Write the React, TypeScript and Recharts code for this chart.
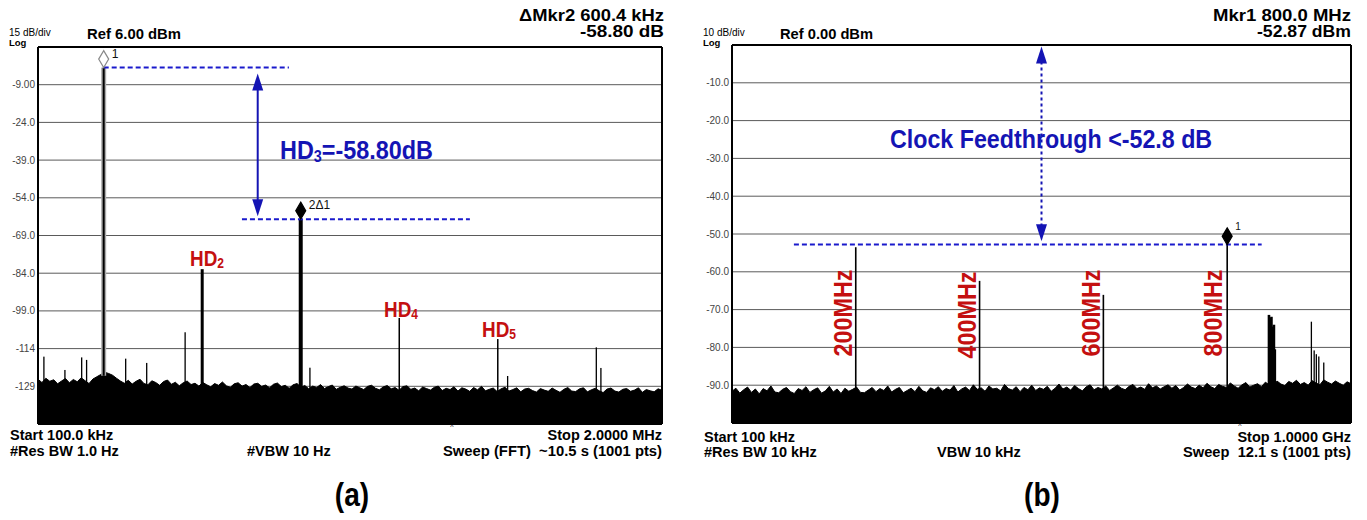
import React from 'react';
import {
  ComposedChart,
  Area,
  Bar,
  Scatter,
  XAxis,
  YAxis,
  CartesianGrid,
  ReferenceLine,
} from 'recharts';

// ---------------- Panel (a): 100 kHz – 2 MHz, 15 dB/div, Ref 6 dBm ----------------
const sweepA = [0.1, 2.0]; // MHz (start, stop)
const yRangeA = [-144, 6]; // dBm
const xGridA = [0.29, 0.48, 0.67, 0.86, 1.05, 1.24, 1.43, 1.62, 1.81];
const yTicksA = [-129, -114, -99, -84, -69, -54, -39, -24, -9];
const yTickLabelsA = ['-129', '-114', '-99.0', '-84.0', '-69.0', '-54.0', '-39.0', '-24.0', '-9.00'];

// noise floor trace (dBm), uniform sweep points from start to stop
const noiseA = [
  -126.2, -127.5, -125.8, -127.0, -126.4, -128.0, -126.9, -125.9, -127.6, -126.3,
  -127.2, -125.6, -126.8, -127.9, -126.1, -125.2, -124.3, -123.4, -123.9, -124.6,
  -125.8, -126.9, -127.8, -126.6, -128.1, -127.0, -126.2, -127.9, -128.4, -126.8,
  -127.5, -128.6, -127.1, -126.5, -128.2, -127.4, -128.8, -127.6, -126.9, -128.3,
  -127.8, -128.9, -127.5, -128.4, -129.2, -127.9, -128.6, -127.3, -128.8, -129.4,
  -128.0, -127.6, -128.9, -128.3, -129.5, -128.1, -127.8, -129.0, -128.5, -129.6,
  -128.2, -127.7, -129.1, -128.6, -129.8, -128.4, -127.9, -129.3, -128.7, -130.0,
  -128.9, -129.5, -128.3, -129.9, -129.1, -128.5, -130.2, -129.4, -128.8, -129.7,
  -130.1, -128.9, -129.6, -130.3, -129.0, -128.6, -129.8, -130.4, -129.2, -128.7,
  -130.0, -129.5, -130.6, -129.1, -128.8, -130.2, -129.7, -130.8, -129.3, -129.9,
  -130.5, -129.4, -128.9, -130.7, -129.8, -130.3, -129.2, -130.9, -129.6, -130.1,
  -131.0, -129.5, -130.4, -129.0, -130.8, -130.2, -129.7, -131.1, -130.0, -129.4,
  -130.9, -130.3, -129.6, -131.2, -130.1, -129.8, -130.7, -131.3, -129.9, -130.5,
  -131.0, -129.7, -130.6, -131.4, -130.2, -129.5, -130.9, -131.1, -130.0, -129.6,
  -131.2, -130.4, -129.8, -130.8, -131.5, -130.1, -129.7, -130.9, -131.3, -130.2,
  -129.9, -131.0, -130.5, -129.6, -131.4, -130.3, -130.8, -131.2, -130.0, -130.6,
];

// discrete tones (MHz, dBm)
const spikesA = [
  { f: 0.118, level: -117.2, kind: 'spur' },
  { f: 0.182, level: -122.5, kind: 'spur' },
  { f: 0.233, level: -117.5, kind: 'spur' },
  { f: 0.248, level: -118.5, kind: 'spur' },
  { f: 0.3, level: -2.2, kind: 'fund' },
  { f: 0.367, level: -118.0, kind: 'spur' },
  { f: 0.431, level: -119.7, kind: 'spur' },
  { f: 0.548, level: -107.5, kind: 'spur' },
  { f: 0.6, level: -82.4, kind: 'hd2' },
  { f: 0.9, level: -62.5, kind: 'hd3' },
  { f: 0.928, level: -121.6, kind: 'spur' },
  { f: 1.2, level: -101.8, kind: 'hd' },
  { f: 1.5, level: -110.2, kind: 'hd' },
  { f: 1.53, level: -124.9, kind: 'spur' },
  { f: 1.8, level: -113.5, kind: 'spur' },
  { f: 1.814, level: -121.7, kind: 'spur' },
];

const markersA = [
  { f: 0.3, level: -2.2, label: '1', filled: false },
  { f: 0.9, level: -62.5, label: '2Δ1', filled: true },
];
const dashLinesA = [
  { x1: 0.3, x2: 0.864, y: -2.2 },
  { x1: 0.721, x2: 1.415, y: -62.5 },
];
const arrowA = { x: 0.769, yTop: -4.5, yBottom: -61.3 };

// ---------------- Panel (b): 100 kHz – 1 GHz, 10 dB/div, Ref 0 dBm ----------------
const sweepB = [0.1, 1000]; // MHz
const yRangeB = [-100, 0];
const xGridB = [100.09, 200.08, 300.07, 400.06, 500.05, 600.04, 700.03, 800.02, 900.01];
const yTicksB = [-90, -80, -70, -60, -50, -40, -30, -20, -10];
const yTickLabelsB = ['-90.0', '-80.0', '-70.0', '-60.0', '-50.0', '-40.0', '-30.0', '-20.0', '-10.0'];

const noiseB = [
  -91.6, -90.8, -92.1, -91.2, -90.5, -91.9, -91.0, -92.3, -90.9, -91.5,
  -90.2, -91.8, -92.0, -91.1, -90.6, -91.7, -92.2, -90.9, -91.4, -90.4,
  -91.9, -91.2, -90.7, -92.1, -91.5, -90.3, -91.8, -91.0, -92.2, -90.8,
  -91.6, -91.1, -90.5, -91.9, -92.0, -91.3, -90.6, -91.7, -90.9, -91.4,
  -90.2, -91.8, -91.1, -90.6, -92.0, -91.4, -90.8, -91.7, -90.3, -91.5,
  -91.9, -90.7, -91.2, -90.4, -91.6, -90.9, -91.3, -90.1, -91.8, -91.0,
  -90.5, -91.4, -89.9, -91.1, -90.7, -91.6, -90.2, -91.0, -90.8, -91.5,
  -89.8, -90.9, -91.3, -90.4, -91.7, -90.6, -91.2, -90.0, -91.4, -90.7,
  -91.1, -90.3, -91.6, -90.8, -89.7, -91.0, -90.5, -91.3, -90.1, -90.9,
  -91.5, -90.4, -89.9, -91.2, -90.6, -91.0, -90.2, -91.4, -90.7, -90.0,
  -90.8, -91.2, -90.3, -89.8, -90.9, -90.5, -91.1, -89.6, -90.7, -90.2,
  -91.0, -90.4, -89.9, -90.8, -90.1, -91.3, -90.6, -89.7, -90.5, -90.9,
  -90.0, -90.7, -89.5, -90.4, -90.9, -89.8, -90.3, -90.6, -89.4, -90.2,
  -90.8, -89.9, -89.3, -90.5, -90.0, -89.6, -90.4, -89.2, -89.9, -90.3,
  -88.9, -89.7, -90.1, -89.0, -89.5, -88.7, -89.8, -89.3, -90.0, -88.8,
  -89.4, -89.9, -88.6, -89.2, -89.7, -88.9, -89.5, -90.0, -89.1, -89.6,
];

const spikesB = [
  { f: 200, level: -53.5, kind: 'tone' },
  { f: 400, level: -62.4, kind: 'tone' },
  { f: 600, level: -66.1, kind: 'tone' },
  { f: 800, level: -52.87, kind: 'tone' },
  { f: 867.5, level: -71.4, kind: 'cluster' },
  { f: 869.5, level: -72.2, kind: 'cluster' },
  { f: 871.5, level: -71.9, kind: 'cluster' },
  { f: 873.5, level: -74.5, kind: 'cluster' },
  { f: 875.5, level: -74.0, kind: 'cluster' },
  { f: 878.0, level: -80.5, kind: 'spur' },
  { f: 936.0, level: -73.2, kind: 'spur' },
  { f: 940.5, level: -80.8, kind: 'spur' },
  { f: 944.0, level: -81.8, kind: 'spur' },
  { f: 948.0, level: -82.4, kind: 'spur' },
  { f: 956.0, level: -84.0, kind: 'spur' },
];

const markersB = [{ f: 800, level: -52.87, label: '1', filled: true }];
const dashLinesB = [{ x1: 100.1, x2: 855.7, y: -52.8 }];
const arrowB = { x: 500.05, yTop: -0.4, yBottom: -51.9 };

// ---------------- styles ----------------
const FONT = 'Liberation Sans, Arial, Helvetica, sans-serif';
const BLUE = '#1414b4';
const DASH_BLUE = '#1a1acc';
const RED = '#c41010';

const spikeStyles: Record<string, { w: number; halo?: number; haloColor?: string }> = {
  fund: { w: 2, halo: 5, haloColor: '#ababab' },
  hd3: { w: 4 },
  hd2: { w: 3 },
  hd: { w: 1.5 },
  tone: { w: 1.6 },
  cluster: { w: 2.6 },
  spur: { w: 1.3 },
};

function buildRows(sweep: number[], noise: number[], spikes: any[]) {
  const n = noise.length;
  const step = (sweep[1] - sweep[0]) / (n - 1);
  const rows: any[] = noise.map((v, i) => ({ f: sweep[0] + i * step, noise: v }));
  spikes.forEach((s) => {
    const idx = Math.round((s.f - sweep[0]) / step);
    const near = [idx - 1, idx, idx + 1].filter((k) => k >= 0 && k < n).map((k) => noise[k]);
    const floor = Math.min(...near) - 0.5;
    rows.push({ f: s.f, kind: s.kind, spike: [floor, s.level] });
  });
  rows.sort((a, b) => a.f - b.f);
  return rows;
}

const SpikeShape = (props: any) => {
  const { x, y, width, height, payload } = props;
  if (!payload || !payload.kind || !isFinite(x) || !isFinite(y) || !isFinite(height)) return <g />;
  const st = spikeStyles[payload.kind];
  const cx = x + width / 2;
  const top = Math.min(y, y + height);
  const h = Math.abs(height);
  return (
    <g>
      {st.halo ? <rect x={cx - st.halo / 2} y={top} width={st.halo} height={h} fill={st.haloColor} /> : null}
      <rect x={cx - st.w / 2} y={top} width={st.w} height={h} fill="#000" />
    </g>
  );
};

const makeDiamond = (labelDx: number, labelDy: number, labelSize: number) => (props: any) => {
  const { cx, cy, payload } = props;
  if (!isFinite(cx) || !isFinite(cy)) return <g />;
  const h = 17;
  const w = 5;
  const pts = `${cx},${cy - h} ${cx + w},${cy - h / 2} ${cx},${cy} ${cx - w},${cy - h / 2}`;
  return (
    <g>
      <polygon
        points={pts}
        fill={payload.filled ? '#000' : '#fff'}
        stroke={payload.filled ? '#000' : '#8a8a8a'}
        strokeWidth={1.2}
      />
      <text x={cx + labelDx} y={cy + labelDy} fontSize={labelSize} fontFamily={FONT} fill="#111">
        {payload.label}
      </text>
    </g>
  );
};

const makeArrow = (dash?: string) => (props: any) => {
  const { x1, y1, y2 } = props;
  if (!isFinite(x1)) return <g />;
  const top = Math.min(y1, y2);
  const bot = Math.max(y1, y2);
  const hw = 5.5;
  const hl = 17;
  return (
    <g>
      <line x1={x1} y1={top + hl - 2} x2={x1} y2={bot - hl + 2} stroke={BLUE} strokeWidth={2} strokeDasharray={dash} />
      <polygon points={`${x1},${top} ${x1 + hw},${top + hl} ${x1 - hw},${top + hl}`} fill={BLUE} />
      <polygon points={`${x1},${bot} ${x1 + hw},${bot - hl} ${x1 - hw},${bot - hl}`} fill={BLUE} />
    </g>
  );
};

const makeTick = (ticks: number[], labels: string[]) => (props: any) => {
  const { x, y, payload } = props;
  const i = ticks.indexOf(payload.value);
  return (
    <text x={x} y={y} dy={3.5} textAnchor="end" fontSize={10} fill="#444" fontFamily={FONT}>
      {labels[i]}
    </text>
  );
};

type PanelProps = {
  width: number;
  height: number;
  margin: any;
  yAxisWidth: number;
  sweep: number[];
  yRange: number[];
  xGrid: number[];
  yTicks: number[];
  yTickLabels: string[];
  noise: number[];
  spikes: any[];
  markers: any[];
  dashes: any[];
  arrow: { x: number; yTop: number; yBottom: number };
  arrowDash?: string;
  labelDx: number;
  labelDy: number;
  labelSize: number;
};

function Panel(p: PanelProps) {
  const rows = buildRows(p.sweep, p.noise, p.spikes);
  return (
    <ComposedChart width={p.width} height={p.height} data={rows} margin={p.margin}>
      <CartesianGrid stroke="#5a5a5a" strokeWidth={1} horizontal vertical />
      <XAxis
        dataKey="f"
        type="number"
        domain={p.sweep}
        ticks={p.xGrid}
        allowDataOverflow
        tick={false}
        tickLine={false}
        axisLine={false}
        height={0}
      />
      <YAxis
        type="number"
        domain={p.yRange}
        ticks={p.yTicks}
        allowDataOverflow
        axisLine={false}
        tickLine={false}
        tickSize={0}
        tickMargin={3}
        width={p.yAxisWidth}
        tick={makeTick(p.yTicks, p.yTickLabels)}
      />
      <Area
        type="linear"
        dataKey="noise"
        stroke="#000"
        strokeWidth={1}
        fill="#000"
        fillOpacity={1}
        baseValue="dataMin"
        connectNulls
        dot={false}
        activeDot={false}
        isAnimationActive={false}
      />
      <Bar dataKey="spike" barSize={1} shape={SpikeShape} isAnimationActive={false} />
      <ReferenceLine x={p.sweep[0]} stroke="#000" strokeWidth={2} />
      <ReferenceLine x={p.sweep[1]} stroke="#000" strokeWidth={2} />
      <ReferenceLine y={p.yRange[0]} stroke="#000" strokeWidth={2} />
      <ReferenceLine y={p.yRange[1]} stroke="#000" strokeWidth={2} />
      {p.dashes.map((d, i) => (
        <ReferenceLine
          key={'d' + i}
          segment={[
            { x: d.x1, y: d.y },
            { x: d.x2, y: d.y },
          ]}
          stroke={DASH_BLUE}
          strokeWidth={2}
          strokeDasharray="5 3"
        />
      ))}
      <ReferenceLine
        segment={[
          { x: p.arrow.x, y: p.arrow.yTop },
          { x: p.arrow.x, y: p.arrow.yBottom },
        ]}
        shape={makeArrow(p.arrowDash)}
      />
      <Scatter
        data={p.markers}
        dataKey="level"
        shape={makeDiamond(p.labelDx, p.labelDy, p.labelSize)}
        isAnimationActive={false}
      />
    </ComposedChart>
  );
}

// Text helper
const T = ({
  x,
  y,
  size,
  sx = 1,
  anchor = 'start',
  weight = 'bold',
  fill = '#000',
  len,
  children,
}: any) => (
  <text
    transform={`translate(${x} ${y}) scale(${sx} 1)`}
    fontSize={size}
    fontWeight={weight}
    textAnchor={anchor}
    fill={fill}
    fontFamily={FONT}
    textLength={len}
    lengthAdjust={len ? 'spacingAndGlyphs' : undefined}
    style={{ whiteSpace: 'pre' }}
  >
    {children}
  </text>
);

const HDLabel = ({ x, y, n }: any) => (
  <text transform={`translate(${x} ${y}) scale(0.86 1)`} fontSize={22} fontWeight="bold" fill={RED} fontFamily={FONT}>
    HD
    <tspan fontSize={14} dy={2}>
      {n}
    </tspan>
  </text>
);

const VLabel = ({ x, y, text }: any) => (
  <text
    transform={`translate(${x} ${y}) rotate(-90)`}
    fontSize={25}
    fontWeight="bold"
    fill={RED}
    fontFamily={FONT}
    textAnchor="middle"
    dominantBaseline="central"
    textLength={87}
    lengthAdjust="spacingAndGlyphs"
  >
    {text}
  </text>
);

export default function App() {
  return (
    <div style={{ position: 'absolute', left: 0, top: 0, width: 1367, height: 520, background: '#fff', overflow: 'hidden' }}>
      <div style={{ position: 'absolute', left: 0, top: 0 }}>
        <Panel
          width={700}
          height={440}
          margin={{ top: 47, right: 38, bottom: 16, left: 0 }}
          yAxisWidth={38}
          sweep={sweepA}
          yRange={yRangeA}
          xGrid={xGridA}
          yTicks={yTicksA}
          yTickLabels={yTickLabelsA}
          noise={noiseA}
          spikes={spikesA}
          markers={markersA}
          dashes={dashLinesA}
          arrow={arrowA}
          labelDx={8}
          labelDy={-10}
          labelSize={12}
        />
      </div>
      <div style={{ position: 'absolute', left: 690, top: 0 }}>
        <Panel
          width={677}
          height={440}
          margin={{ top: 45, right: 16, bottom: 17, left: 0 }}
          yAxisWidth={42}
          sweep={sweepB}
          yRange={yRangeB}
          xGrid={xGridB}
          yTicks={yTicksB}
          yTickLabels={yTickLabelsB}
          noise={noiseB}
          spikes={spikesB}
          markers={markersB}
          dashes={dashLinesB}
          arrow={arrowB}
          arrowDash="3 3"
          labelDx={8}
          labelDy={-15}
          labelSize={10}
        />
      </div>
      <svg
        width={1367}
        height={520}
        style={{ position: 'absolute', left: 0, top: 0, pointerEvents: 'none' }}
      >
        {/* ---- panel (a) header ---- */}
        <T x={664} y={21} size={16} anchor="end" len={145}>ΔMkr2 600.4 kHz</T>
        <T x={664} y={37} size={16} anchor="end" len={84}>-58.80 dB</T>
        <T x={9} y={36} size={10} weight="normal">15 dB/div</T>
        <T x={9} y={46} size={9.5}>Log</T>
        <T x={87} y={39} size={14} len={94}>Ref 6.00 dBm</T>
        {/* ---- panel (a) annotations ---- */}
        <text transform="translate(280 159) scale(0.9 1)" fontSize={26} fontWeight="bold" fill={BLUE} fontFamily={FONT}>
          HD<tspan fontSize={16} dy={3}>3</tspan>
          <tspan dy={-3}>=-58.80dB</tspan>
        </text>
        <HDLabel x={190} y={266} n={2} />
        <HDLabel x={384} y={317} n={4} />
        <HDLabel x={482} y={337} n={5} />
        {/* ---- panel (a) footer ---- */}
        <T x={452} y={429} size={7} weight="normal" anchor="middle">^</T>
        <T x={10} y={440} size={14.5}>Start 100.0 kHz</T>
        <T x={10} y={456} size={14.5}>#Res BW 1.0 Hz</T>
        <T x={247} y={456} size={14.5}>#VBW 10 Hz</T>
        <T x={662} y={440} size={14.5} anchor="end">Stop 2.0000 MHz</T>
        <T x={662} y={456} size={14.5} anchor="end" len={219}>Sweep (FFT)  ~10.5 s (1001 pts)</T>
        <T x={352} y={506} size={33} sx={0.85} anchor="middle">(a)</T>

        {/* ---- panel (b) header ---- */}
        <T x={1351} y={21} size={16} anchor="end" len={138}>Mkr1 800.0 MHz</T>
        <T x={1351} y={37} size={16} anchor="end" len={94}>-52.87 dBm</T>
        <T x={703} y={36} size={10} weight="normal">10 dB/div</T>
        <T x={703} y={46} size={9.5}>Log</T>
        <T x={780} y={39} size={14} len={93}>Ref 0.00 dBm</T>
        {/* ---- panel (b) annotations ---- */}
        <T x={890} y={148} size={25} sx={0.93} fill={BLUE}>Clock Feedthrough &lt;-52.8 dB</T>
        <VLabel x={843} y={313} text="200MHz" />
        <VLabel x={967} y={315} text="400MHz" />
        <VLabel x={1091} y={313} text="600MHz" />
        <VLabel x={1213} y={313} text="800MHz" />
        {/* ---- panel (b) footer ---- */}
        <T x={1240} y={428} size={7} weight="normal" anchor="middle">^</T>
        <T x={704} y={442} size={14.5}>Start 100 kHz</T>
        <T x={704} y={457} size={14.5}>#Res BW 10 kHz</T>
        <T x={937} y={457} size={14.5}>VBW 10 kHz</T>
        <T x={1351} y={442} size={14.5} anchor="end">Stop 1.0000 GHz</T>
        <T x={1351} y={457} size={14.5} anchor="end" len={168}>Sweep  12.1 s (1001 pts)</T>
        <T x={1042} y={506} size={33} sx={0.85} anchor="middle">(b)</T>
      </svg>
    </div>
  );
}
